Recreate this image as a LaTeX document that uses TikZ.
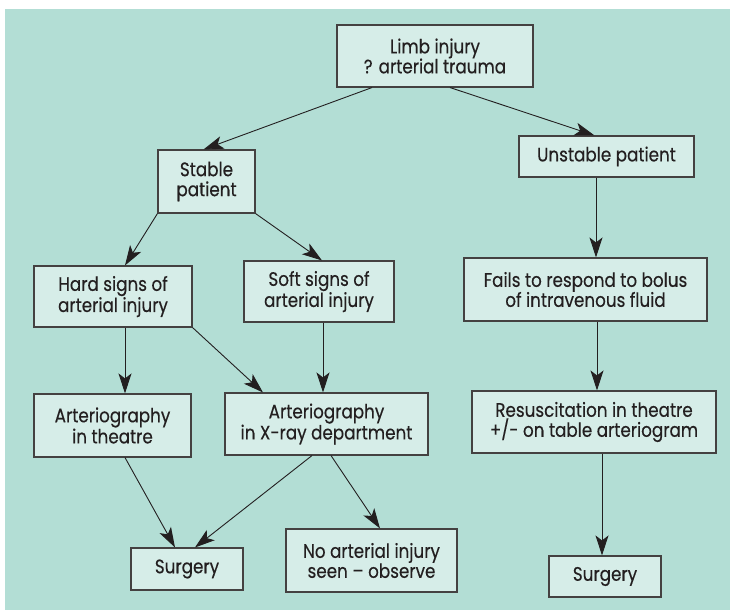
\documentclass[tikz,border=0pt]{standalone}
\usepackage{fontspec}
\setmainfont{Poppins}[FakeStretch=0.86,FakeBold=0.3]
\usetikzlibrary{arrows.meta}
\definecolor{bgteal}{RGB}{179,222,213}
\definecolor{boxfill}{RGB}{214,237,232}
\definecolor{ink}{RGB}{35,31,32}
\begin{document}
\begin{tikzpicture}[x=1pt,y=-1pt,
  box/.style={draw=ink!85, line width=1.1pt, fill=boxfill, text=ink, align=center,
    inner sep=0pt, font=\fontsize{19.5}{20}\selectfont},
  arr/.style={draw=ink, line width=0.9pt, -{Stealth[length=20pt,width=13pt,inset=5pt]}}]
\useasboundingbox (0,0) rectangle (730,610);
\fill[bgteal] (5,9) rectangle (730,610);
\node[box, minimum width=196pt, minimum height=62pt] (limb) at (435,56) {Limb injury\\? arterial trauma};
\node[box, minimum width=175pt, minimum height=41pt] (unstable) at (606.5,156.5) {Unstable patient};
\node[box, minimum width=97pt, minimum height=63pt] (stable) at (206.5,181.5) {Stable\\patient};
\node[box, minimum width=158pt, minimum height=61pt] (hard) at (113,296.5) {Hard signs of\\arterial injury};
\node[box, minimum width=150pt, minimum height=61pt] (soft) at (319,291.5) {Soft signs of\\arterial injury};
\node[box, minimum width=157pt, minimum height=63pt] (art) at (112.5,425.5) {Arteriography\\in theatre};
\node[box, minimum width=203pt, minimum height=62pt] (xray) at (326.5,424) {Arteriography\\in X-ray department};
\node[box, minimum width=112pt, minimum height=42pt] (surgL) at (187,569) {Surgery};
\node[box, minimum width=171pt, minimum height=63pt] (noart) at (371.5,560.5) {No arterial injury\\seen -- observe};
\node[box, minimum width=243pt, minimum height=63pt] (fails) at (585.5,289.5) {Fails to respond to bolus\\of intravenous fluid};
\node[box, minimum width=244pt, minimum height=62pt] (resus) at (594,422) {Resuscitation in theatre\\+/- on table arteriogram};
\node[box, minimum width=112pt, minimum height=41pt] (surgR) at (605,576.5) {Surgery};

\draw[arr] ([xshift=-63pt]limb.south) -- ([xshift=-3pt]stable.north);
\draw[arr] ([xshift=15pt]limb.south) -- ([xshift=-12pt]unstable.north);
\draw[arr] (stable.south west) -- ([xshift=12pt]hard.north);
\draw[arr] (stable.south east) -- ([xshift=3pt]soft.north);
\draw[arr] ([xshift=12pt]hard.south) -- ([xshift=12pt]hard.south |- art.north);
\draw[arr] (hard.south east) -- ([xshift=-63.5pt]xray.north);
\draw[arr] ([xshift=4pt]soft.south) -- ([xshift=4pt]soft.south |- xray.north);
\draw[arr] ([xshift=12.5pt]art.south) -- ([xshift=-12pt]surgL.north);
\draw[arr] ([xshift=-14.5pt]xray.south) -- ([xshift=8pt]surgL.north);
\draw[arr] ([xshift=4.5pt]xray.south) -- ([xshift=8.5pt]noart.north);
\draw[arr] ([xshift=-10.5pt]unstable.south) -- ([xshift=-10.5pt]unstable.south |- fails.north);
\draw[arr] ([xshift=11.5pt]fails.south) -- ([xshift=11.5pt]fails.south |- resus.north);
\draw[arr] ([xshift=8pt]resus.south) -- ([xshift=8pt]resus.south |- surgR.north);
\end{tikzpicture}
\end{document}
